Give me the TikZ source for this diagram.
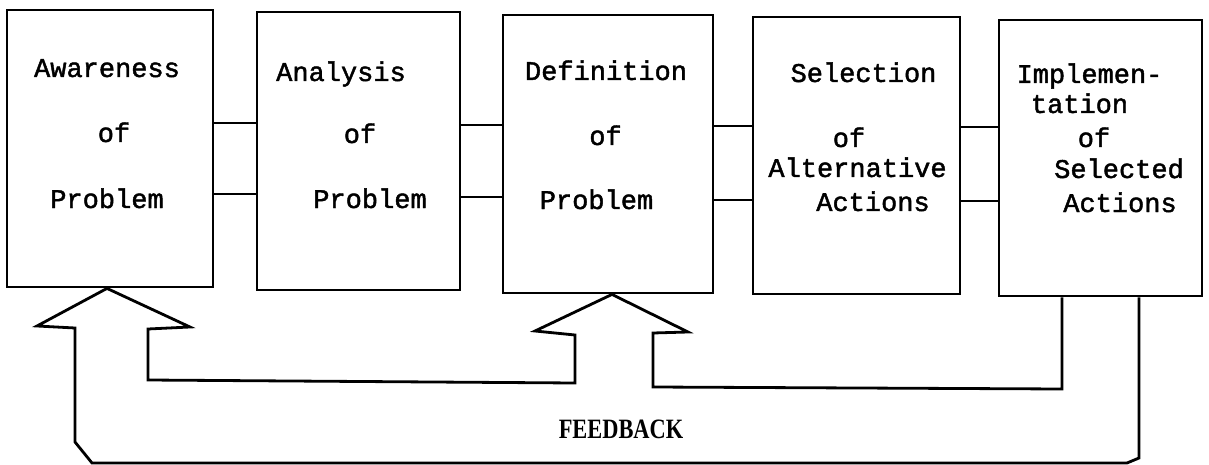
\documentclass[tikz,border=0pt]{standalone}
\usepackage{fontspec}
\setmonofont{Liberation Mono}[FakeBold=1.6]
\newfontfamily\labelfont{Liberation Serif}
\begin{document}
\begin{tikzpicture}[x=1pt,y=-1pt,
  stage/.style={draw, line width=2.8pt, rectangle, inner sep=0pt},
  word/.style={anchor=base, inner sep=0pt, font=\ttfamily\fontsize{27}{32}\selectfont},
  link/.style={line width=2.8pt},
  loop/.style={line width=2.8pt, line join=miter, miter limit=20}]
\useasboundingbox (0,0) rectangle (1209,465);

% process stages
\node[stage, minimum width=206pt, minimum height=277pt] (b1) at (110,148.5) {};
\node[stage, minimum width=203pt, minimum height=278pt] (b2) at (358.5,151) {};
\node[stage, minimum width=210pt, minimum height=278pt] (b3) at (608,154) {};
\node[stage, minimum width=207pt, minimum height=277pt] (b4) at (856.5,155.5) {};
\node[stage, minimum width=203pt, minimum height=276pt] (b5) at (1100.5,158) {};

% stage labels
\node[word] (t11) at (107,77)  {Awareness};
\node[word] (t12) at (114,142) {of};
\node[word] (t13) at (107,208) {Problem};

\node[word] (t21) at (341,81)  {Analysis};
\node[word] (t22) at (360,143) {of};
\node[word] (t23) at (370,208) {Problem};

\node[word] (t31) at (606,80)  {Definition};
\node[word] (t32) at (605.5,145) {of};
\node[word] (t33) at (596.5,209) {Problem};

\node[word] (t41) at (863.5,82) {Selection};
\node[word] (t42) at (849,147)  {of};
\node[word] (t43) at (857.5,177) {Alternative};
\node[word] (t44) at (873,211)  {Actions};

\node[word] (t51) at (1089.5,83) {Implemen-};
\node[word] (t52) at (1079.5,113) {tation};
\node[word] (t53) at (1094,147)  {of};
\node[word] (t54) at (1119,178)  {Selected};
\node[word] (t55) at (1120,212)  {Actions};

% double links between neighbouring stages
\draw[link] (b1.east |- 0,123) -- (b2.west |- 0,123);
\draw[link] (b1.east |- 0,194) -- (b2.west |- 0,194);
\draw[link] (b2.east |- 0,125) -- (b3.west |- 0,125);
\draw[link] (b2.east |- 0,197) -- (b3.west |- 0,197);
\draw[link] (b3.east |- 0,126) -- (b4.west |- 0,126);
\draw[link] (b3.east |- 0,200) -- (b4.west |- 0,200);
\draw[link] (b4.east |- 0,127) -- (b5.west |- 0,127);
\draw[link] (b4.east |- 0,201) -- (b5.west |- 0,201);

% feedback loops with hollow arrows
\draw[loop] (b5.south -| 1139,0) -- (1139,458) -- (1127,463) -- (92,463)
  -- (75,442) -- (75,328) -- (37,326) -- (b1.south -| 107,0)
  -- (190,327) -- (148,329) -- (148,380) -- (575,383) -- (575,335)
  -- (535,331) -- (b3.south -| 612,0) -- (688,332) -- (653,333)
  -- (653,387) -- (1062,389) -- (b5.south -| 1062,0);

\node[anchor=base, inner sep=0pt, font=\labelfont\bfseries\fontsize{28}{32}\selectfont]
  (fb) at (621,438) {\scalebox{0.8}[1]{FEEDBACK}};
\end{tikzpicture}
\end{document}
